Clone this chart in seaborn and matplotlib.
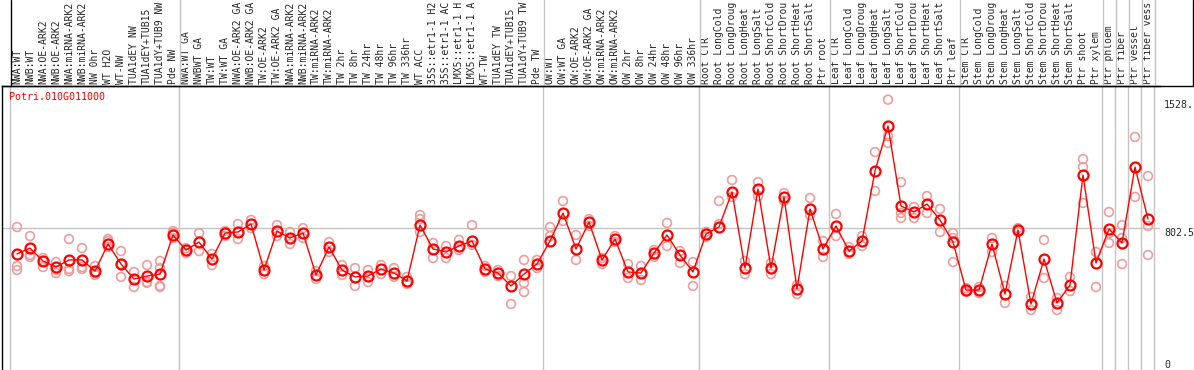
import numpy as np
import pandas as pd
import matplotlib
matplotlib.use("Agg")
import matplotlib.pyplot as plt
import seaborn as sns

# gene shown in the corner
gene = "Potri.010G011000"

# sample names (one column each), shortened to 14 characters as on the chart
samples = [
    # NW
    "NWA:WT", "NWB:WT", "NWA:OE-ARK2", "NWB:OE-ARK2", "NWA:miRNA-ARK2", "NWB:miRNA-ARK2",
    "NW 0hr", "WT H2O", "WT-NW", "TUA1dEY NW", "TUA1dEY+TUB15", "TUA1dY+TUB9 NW", "Pde NW",
    # TW
    "NWA:WT GA", "NWBWT GA", "TW:WT", "TW:WT GA", "NWA:OE-ARK2 GA", "NWB:OE-ARK2 GA",
    "TW:OE-ARK2", "TW:OE-ARK2 GA", "NWA:miRNA-ARK2", "NWB:miRNA-ARK2", "TW:miRNA-ARK2",
    "TW:miRNA-ARK2", "TW 2hr", "TW 8hr", "TW 24hr", "TW 48hr", "TW 96hr", "TW 336hr",
    "WT ACC", "35S::etr1-1 H2", "35S::etr1-1 AC", "LMX5::etr1-1 H", "LMX5::etr1-1 A",
    "WT-TW", "TUA1dEY TW", "TUA1dEY+TUB15", "TUA1dY+TUB9 TW", "Pde TW",
    # OW
    "OW:WT", "OW:WT GA", "OW:OE-ARK2", "OW:OE-ARK2 GA", "OW:miRNA-ARK2", "OW:miRNA-ARK2",
    "OW 2hr", "OW 8hr", "OW 24hr", "OW 48hr", "OW 96hr", "OW 336hr",
    # root
    "Root CTR", "Root LongCold", "Root LongDroug", "Root LongHeat", "Root LongSalt",
    "Root ShortCold", "Root ShortDrou", "Root ShortHeat", "Root ShortSalt", "Ptr root",
    # leaf
    "Leaf CTR", "Leaf LongCold", "Leaf LongDroug", "Leaf LongHeat", "Leaf LongSalt",
    "Leaf ShortCold", "Leaf ShortDrou", "Leaf ShortHeat", "Leaf ShortSalt", "Ptr leaf",
    # stem
    "Stem CTR", "Stem LongCold", "Stem LongDroug", "Stem LongHeat", "Stem LongSalt",
    "Stem ShortCold", "Stem ShortDrou", "Stem ShortHeat", "Stem ShortSalt",
    "Ptr shoot", "Ptr xylem",
    "Ptr phloem", "Ptr fiber", "Ptr vessel", "Ptr fiber vess",
]

# mean expression per sample
means = [
    656, 689, 616, 582, 622, 622, 559, 712, 599, 514, 531, 542, 763,
    678, 723, 627, 774, 780, 825, 565, 785, 746, 774, 537, 695, 565, 526, 531,
    571, 548, 503, 819, 684, 667, 701, 729, 571, 548, 475, 542, 599,
    729, 887, 684, 836, 622, 740, 554, 548, 661, 763, 650, 554,
    769, 808, 1006, 576, 1023, 576, 978, 458, 910, 684,
    814, 672, 729, 1125, 1379, 927, 893, 938, 848, 723,
    452, 452, 712, 429, 791, 373, 627, 379, 480, 1102, 605,
    797, 718, 1147, 853,
]

# single replicates per sample
replicates = [
    [808, 588, 565], [757, 650, 639], [633, 582, 616], [610, 548, 565], [740, 571, 559],
    [689, 582, 571], [588, 548, 537], [740, 695, 729], [672, 526, 599], [554, 469],
    [593, 497, 492], [616, 576, 475, 469], [785, 774, 746],
    [689, 661], [774, 672], [656, 593], [785, 757], [825, 740], [848, 802], [588, 542],
    [819, 757], [780, 712], [802, 746], [559, 514], [723, 667], [593, 537], [576, 475],
    [565, 497], [593, 542], [576, 526], [526, 486], [876, 853, 780], [718, 633],
    [701, 633], [735, 678], [819, 707], [588, 554], [565, 531], [531, 373],
    [622, 492, 441], [622, 576],
    [808, 757], [955, 842], [763, 622], [853, 814], [633, 599], [757, 723], [599, 520],
    [588, 509], [678, 639], [831, 701], [672, 605], [610, 475],
    [780, 752], [955, 825], [1074, 978], [616, 542], [1062, 983], [605, 542],
    [1000, 955], [480, 429], [972, 876], [729, 639],
    [882, 757], [695, 656], [757, 701], [1232, 1012], [1528, 1322, 1283],
    [1062, 887, 859], [921, 859], [983, 887], [910, 780], [774, 746, 610],
    [463, 441], [469, 435], [746, 667], [475, 379], [802, 780], [413, 339], [735, 520],
    [407, 339], [526, 446], [1192, 1147, 944], [667, 469],
    [893, 774, 718], [819, 746, 599], [1317, 978], [1096, 814, 650],
]

# last column index of each block (separators)
block_ends = [13, 41, 53, 63, 73, 84, 85, 86, 87, 88]

y_marks = [0, 802.5, 1528]
y_mark_labels = ["0", "802.5", "1528."]

sns.set_style("white")
plt.rcParams["font.family"] = ["DejaVu Sans Mono"]
plt.rcParams["font.size"] = 7.0

mean_df = pd.DataFrame({"pos": np.arange(len(means)), "expr": means})
rep_df = pd.DataFrame(
    [(i, v) for i, vals in enumerate(replicates) for v in vals],
    columns=["pos", "expr"],
)

W, H = 1194, 370
fig = plt.figure(figsize=(W / 100, H / 100), dpi=100)

# pixel helpers: column i sits at x = 17 + 13 * i
def px2col(px):
    return (px - 17) / 13

top_px = 86
ax = fig.add_axes([2 / W, 0, (1160 - 2) / W, (H - top_px) / H])
head = fig.add_axes([2 / W, (H - top_px) / H, (W - 2) / W, top_px / H])

grey = "#c4c4c4"

# main panel
ax.set_xlim(px2col(2), px2col(1160))
ax.set_ylim(0, 1605)
ax.axhline(802.5, color=grey, lw=1, zorder=0)
for b in [0] + block_ends:
    ax.axvline(b - 0.5, color=grey, lw=1, zorder=0)

sns.scatterplot(data=rep_df, x="pos", y="expr", ax=ax, marker="o", s=40,
                facecolor="none", edgecolor="#ee9c9c", linewidth=1.2,
                zorder=2, legend=False)
sns.lineplot(data=mean_df, x="pos", y="expr", ax=ax, color="#ff0000", lw=1,
             marker="o", markersize=7.2, markerfacecolor="none",
             markeredgecolor="#ff0000", markeredgewidth=1.6, zorder=3)

ax.set_xlabel("")
ax.set_ylabel("")
ax.xaxis.tick_top()
ax.set_xticks(np.arange(len(samples)))
ax.set_xticklabels(samples, rotation=90, fontsize=7.0)
ax.tick_params(axis="x", length=0, pad=1.5)
ax.yaxis.tick_right()
ax.set_yticks(y_marks)
ax.set_yticklabels(y_mark_labels, fontsize=7.2)
ax.tick_params(axis="y", length=0, pad=3)
for lab, va in zip(ax.get_yticklabels(), ["bottom", "top", "top"]):
    lab.set_va(va)
for side in ["right", "bottom"]:
    ax.spines[side].set_visible(False)
for side in ["left", "top"]:
    ax.spines[side].set_color("black")
    ax.spines[side].set_linewidth(1)

ax.text(7 / 1158, 1 - 11 / 284, gene, transform=ax.transAxes,
        color="#ff0000", fontsize=7.2, va="center", ha="left")

# header strip with the sample names
head.patch.set_visible(False)
head.set_xlim(px2col(2), px2col(W))
head.set_ylim(0, 1)
head.set_xticks([])
head.set_yticks([])
for side in ["left", "right", "top"]:
    head.spines[side].set_visible(False)
head.spines["bottom"].set_color("black")
head.spines["bottom"].set_linewidth(1)
head.axvline(-0.5, color="black", lw=1)
head.axvline(px2col(1193), color="black", lw=1)
for b in block_ends:
    head.axvline(b - 0.5, color=grey, lw=1)

fig.savefig("out.png", dpi=100)
